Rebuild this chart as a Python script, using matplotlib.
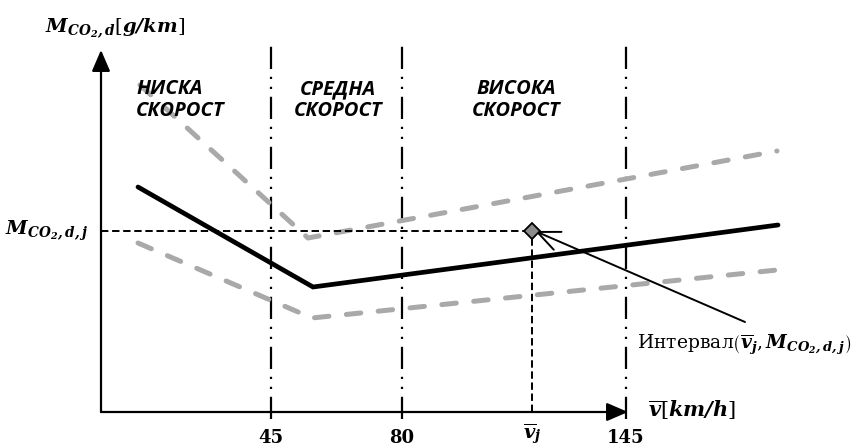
import matplotlib
matplotlib.use('Agg')
import matplotlib.pyplot as plt

plt.rcParams['mathtext.fontset'] = 'dejavuserif'

# ---- schematic data (x measured from the vertical axis, y from the horizontal axis) ----
boundary_x = [170, 301, 525]
boundary_labels = ['45', '80', '145']
zone_names = ['НИСКА\nСКОРОСТ', 'СРЕДНА\nСКОРОСТ', 'ВИСОКА\nСКОРОСТ']

mean_x = [37, 212, 677]
mean_y = [225, 125, 187]
upper_x = [39, 207, 676]
upper_y = [327, 174, 261]
lower_x = [37, 211, 676]
lower_y = [169, 94, 142]

point_x = 431
point_y = 181

x_axis_end = 527
y_axis_end = 362

fig = plt.figure(figsize=(8.67, 4.46), dpi=100)
ax = fig.add_axes([0, 0, 1, 1])
ax.set_xlim(-101, 766)
ax.set_ylim(-34, 412)
ax.axis('off')

# axes with arrows
arrow_kw = dict(arrowstyle='-|>,head_length=0.65,head_width=0.28', lw=1.6,
                color='black', mutation_scale=20, shrinkA=0, shrinkB=0)
ax.annotate('', xy=(0, y_axis_end), xytext=(0, 0), arrowprops=arrow_kw)
ax.annotate('', xy=(x_axis_end, 0), xytext=(0, 0), arrowprops=arrow_kw)

# zone boundaries (dash-dot-dot)
for bx in boundary_x:
    ax.plot([bx, bx], [-7, 367], color='black', lw=1.6,
            dashes=(10, 3.5, 1, 3.5, 1, 3.5))

# gray dashed envelope
for xs, ys in [(upper_x, upper_y), (lower_x, lower_y)]:
    ax.plot(xs, ys, color='#a9a9a9', lw=3.6, dashes=(2.9, 3.5),
            dash_capstyle='round', solid_capstyle='round')

# mean line
ax.plot(mean_x, mean_y, color='black', lw=3.4, solid_capstyle='round',
        solid_joinstyle='miter')

# guide lines to the point
ax.plot([0, point_x], [point_y, point_y], color='black', lw=1.4, dashes=(3.8, 1.9))
ax.plot([point_x, point_x], [0, point_y], color='black', lw=1.4, dashes=(3.8, 1.9))
ax.plot([point_x], [point_y], marker='D', markersize=8, markerfacecolor='#8c8c8c',
        markeredgecolor='black', markeredgewidth=1.3, zorder=5)

# annotation arrow and text
ax.annotate('', xy=(point_x + 3, point_y), xytext=(644, 90),
            arrowprops=dict(arrowstyle='->,head_length=1.6,head_width=0.7', lw=1.4,
                            color='black', mutation_scale=10, shrinkA=0, shrinkB=0))
ax.text(536, 67,
        'Интервал$\\left(\\overline{\\mathbfit{v}}_{\\mathbfit{j}},'
        '\\mathbfit{M}_{\\mathbfit{CO_2,d,j}}\\right)$',
        family='DejaVu Serif', fontsize=13.5, ha='left', va='center')

# zone labels
zone_pos = [(35, 'left'), (237, 'center'), (415, 'center')]
for name, (zx, ha) in zip(zone_names, zone_pos):
    ax.text(zx, 312, name, family='Open Sans', fontweight='bold', fontstyle='italic',
            fontsize=14.5, ha=ha, va='center', multialignment=ha, linespacing=1.15)

# tick labels
for bx, lab in zip(boundary_x, boundary_labels):
    ax.text(bx, -26, lab, family='DejaVu Serif', fontweight='bold', fontsize=13,
            ha='center', va='center')
ax.text(point_x, -22, '$\\overline{\\mathbfit{v}}_{\\mathbfit{j}}$', fontsize=14,
        ha='center', va='center')
ax.text(-13, point_y, '$\\mathbfit{M}_{\\mathbfit{CO_2,d,j}}$', fontsize=14,
        ha='right', va='center')

# axis titles
ax.text(14, 384, '$\\mathbfit{M}_{\\mathbfit{CO_2,d}}[\\mathbfit{g/km}]$', fontsize=14,
        ha='center', va='center')
ax.text(547, 2, '$\\overline{\\mathbfit{v}}[\\mathbfit{km/h}]$', fontsize=15,
        ha='left', va='center')

fig.savefig('out.png', dpi=100)
